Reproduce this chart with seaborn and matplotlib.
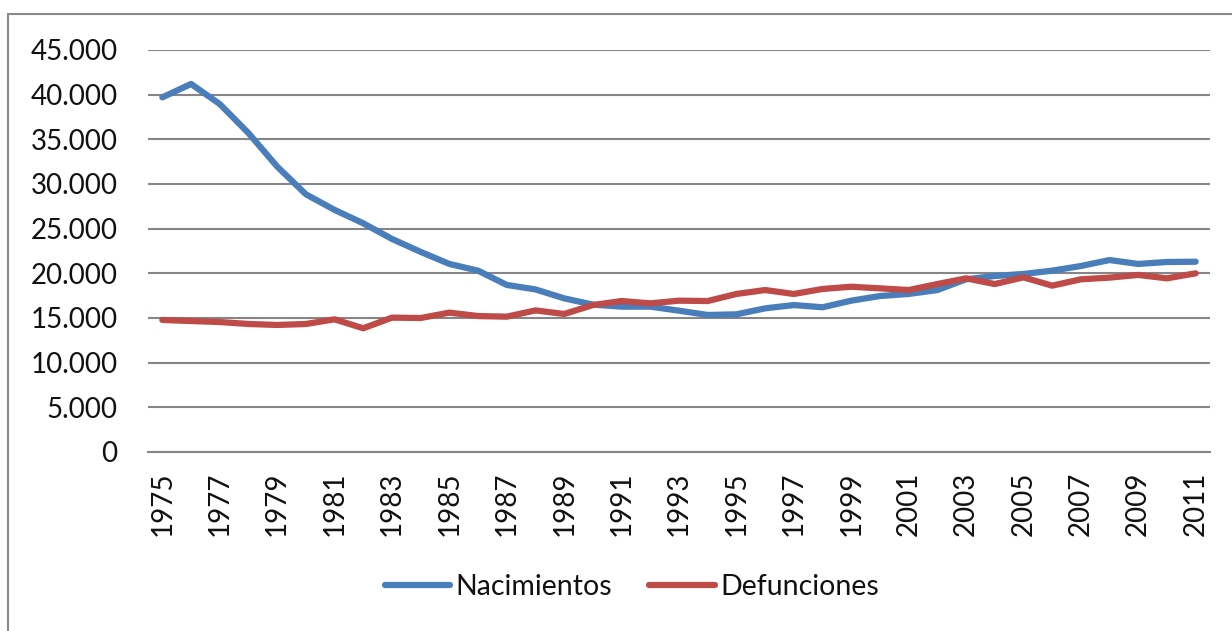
import matplotlib
matplotlib.use('Agg')
import matplotlib.pyplot as plt
from matplotlib.patches import Rectangle
import seaborn as sns
import pandas as pd

years = list(range(1975, 2012))
nacimientos = [39700, 41200, 38950, 35700, 31950, 28850, 27100, 25600, 23850, 22400,
               21050, 20300, 18700, 18200, 17200, 16500, 16270, 16270, 15820, 15340,
               15410, 16080, 16450, 16200, 16940, 17460, 17690, 18130, 19330, 19700,
               19930, 20300, 20820, 21490, 21050, 21270, 21300]
defunciones = [14780, 14660, 14550, 14330, 14220, 14330, 14850, 13850, 15040, 15000,
               15600, 15220, 15150, 15850, 15450, 16450, 16900, 16640, 16940, 16900,
               17690, 18130, 17690, 18250, 18500, 18320, 18130, 18800, 19440, 18800,
               19550, 18620, 19330, 19520, 19820, 19440, 20000]
series = ['Nacimientos', 'Defunciones']
colors = ['#4A7EBB', '#BE4B48']

df = pd.DataFrame({'year': years, 'Nacimientos': nacimientos, 'Defunciones': defunciones})
df = df.melt(id_vars='year', var_name='serie', value_name='valor')

sns.set_style('white')
plt.rcParams['font.family'] = ['Lato', 'DejaVu Sans']

fig = plt.figure(figsize=(12.32, 6.31), dpi=100)
ax = fig.add_axes([148/1232, 1-452/631, (1210-148)/1232, (452-50)/631])

# outer chart border
fig.patches.append(Rectangle((8/1232, -0.1), 1.2, 1-14/631+0.1, transform=fig.transFigure,
                             fill=False, edgecolor='#8a8a8a', linewidth=1.5))

sns.lineplot(data=df, x='year', y='valor', hue='serie', hue_order=series,
             palette=colors, linewidth=4.5, ax=ax, legend=False,
             solid_capstyle='round', solid_joinstyle='round')

ax.set_xlim(1974.5, 2011.5)
ax.set_ylim(0, 45000)
ax.set_yticks(range(0, 45001, 5000))
ax.set_yticklabels(['0' if v == 0 else f'{v:,}'.replace(',', '.') for v in range(0, 45001, 5000)])
ax.yaxis.grid(True, color='#868686', linewidth=1.5)
ax.set_axisbelow(True)
ax.tick_params(axis='y', length=0, pad=22, labelsize=20, colors='#111111')

# boundary ticks like Excel, labels at odd years
ax.set_xticks([y - 0.5 for y in years] + [2011.5])
ax.set_xticklabels([])
ax.tick_params(axis='x', which='major', length=6.5, width=1.5, color='#868686', direction='out')
ax.set_xticks(years[::2], minor=True)
ax.set_xticklabels([str(y) for y in years[::2]], minor=True, rotation=90)
ax.tick_params(axis='x', which='minor', length=0, pad=14, labelsize=20, labelcolor='#111111')

for s in ['top', 'right', 'left']:
    ax.spines[s].set_visible(False)
ax.spines['bottom'].set_color('#868686')
ax.spines['bottom'].set_linewidth(1.5)
ax.set_xlabel('')
ax.set_ylabel('')

handles = [plt.Line2D([], [], color=c, linewidth=4.5, solid_capstyle='round') for c in colors]
fig.legend(handles, series, loc='center', bbox_to_anchor=(632/1232, 1-587/631), ncol=2,
           frameon=False, fontsize=20.5, handlelength=2.3, handletextpad=0.2,
           columnspacing=1.3, labelcolor='#111111')

fig.savefig('out.png', dpi=100)
